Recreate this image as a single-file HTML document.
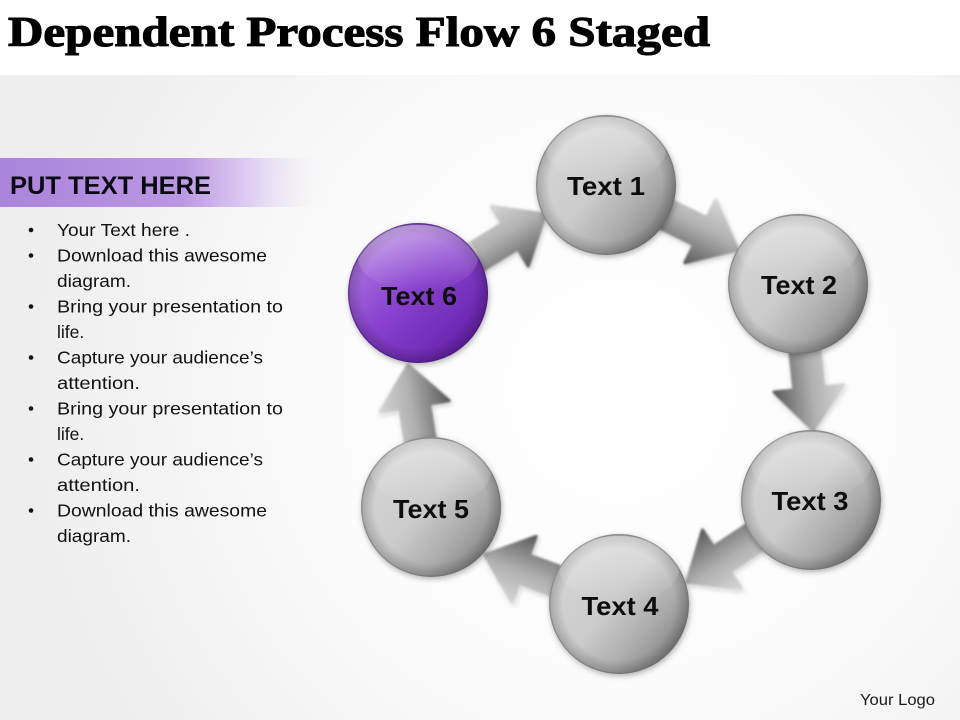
<!DOCTYPE html>
<html><head><meta charset="utf-8"><style>
html,body{margin:0;padding:0;background:#fff;}
svg{display:block;}
</style></head><body>
<svg width="960" height="720" viewBox="0 0 960 720" xmlns="http://www.w3.org/2000/svg">
<defs>
  <radialGradient id="bg" cx="620" cy="390" r="600" gradientUnits="userSpaceOnUse">
    <stop offset="0" stop-color="#ffffff"/>
    <stop offset="0.5" stop-color="#fbfbfb"/>
    <stop offset="1" stop-color="#eeeeee"/>
  </radialGradient>
  <linearGradient id="band" x1="0" y1="0" x2="1" y2="0">
    <stop offset="0" stop-color="#ab83db"/>
    <stop offset="0.55" stop-color="#bb97e3"/>
    <stop offset="0.78" stop-color="#e3d4f4"/>
    <stop offset="1" stop-color="#f7f6f8" stop-opacity="0"/>
  </linearGradient>
  <linearGradient id="sph" x1="0.1" y1="0.15" x2="0.95" y2="0.85">
    <stop offset="0" stop-color="#d6d6d6"/>
    <stop offset="0.45" stop-color="#cbcbcb"/>
    <stop offset="0.72" stop-color="#adadad"/>
    <stop offset="1" stop-color="#7f7f7f"/>
  </linearGradient>
  <linearGradient id="psph" x1="0.1" y1="0.1" x2="0.9" y2="0.9">
    <stop offset="0" stop-color="#b07de2"/>
    <stop offset="0.45" stop-color="#8a42d0"/>
    <stop offset="1" stop-color="#621fa6"/>
  </linearGradient>
  <radialGradient id="rim" cx="0.5" cy="0.5" r="0.5">
    <stop offset="0.8" stop-color="#000" stop-opacity="0"/>
    <stop offset="1" stop-color="#000" stop-opacity="0.22"/>
  </radialGradient>
  <linearGradient id="gloss" x1="0" y1="0" x2="0" y2="1">
    <stop offset="0" stop-color="#fff" stop-opacity="0.38"/>
    <stop offset="1" stop-color="#fff" stop-opacity="0"/>
  </linearGradient>
  <linearGradient id="arrY" x1="0" y1="-34" x2="0" y2="34" gradientUnits="userSpaceOnUse">
    <stop offset="0" stop-color="#d4d4d4"/>
    <stop offset="0.45" stop-color="#b0b0b0"/>
    <stop offset="1" stop-color="#5e5e5e"/>
  </linearGradient>
  <filter id="sh" x="-30%" y="-30%" width="160%" height="160%">
    <feDropShadow dx="1" dy="2" stdDeviation="3" flood-color="#000" flood-opacity="0.3"/>
  </filter>
  <filter id="ash" x="-30%" y="-60%" width="160%" height="220%">
    <feGaussianBlur in="SourceGraphic" stdDeviation="1" result="b"/>
    <feDropShadow in="b" dx="1" dy="2" stdDeviation="2.5" flood-color="#000" flood-opacity="0.22"/>
  </filter>
</defs>

<!-- background -->
<rect x="0" y="0" width="960" height="720" fill="#ffffff"/>
<rect x="0" y="75" width="960" height="645" fill="url(#bg)"/>

<!-- title -->
<text x="8" y="46" font-family="Liberation Serif, serif" font-weight="bold" font-size="42" fill="#000" stroke="#000" stroke-width="1.1" textLength="702" lengthAdjust="spacingAndGlyphs">Dependent Process Flow 6 Staged</text>

<!-- purple band -->
<rect x="0" y="158" width="330" height="49" fill="url(#band)"/>
<text x="10" y="194" font-family="Liberation Sans, sans-serif" font-weight="bold" font-size="25" fill="#0a0a14" textLength="201" lengthAdjust="spacingAndGlyphs">PUT TEXT HERE</text>

<!-- bullets -->
<g font-family="Liberation Sans, sans-serif" font-size="17.5" fill="#111">
  <circle cx="31" cy="230" r="2.3" fill="#111"/>
  <text x="57" y="236" textLength="133" lengthAdjust="spacingAndGlyphs">Your Text here .</text>
  <circle cx="31" cy="255.5" r="2.3" fill="#111"/>
  <text x="57" y="261.5" textLength="210" lengthAdjust="spacingAndGlyphs">Download this awesome</text>
  <text x="57" y="287" textLength="74" lengthAdjust="spacingAndGlyphs">diagram.</text>
  <circle cx="31" cy="306.5" r="2.3" fill="#111"/>
  <text x="57" y="312.5" textLength="226" lengthAdjust="spacingAndGlyphs">Bring your presentation to</text>
  <text x="57" y="338">life.</text>
  <circle cx="31" cy="357.5" r="2.3" fill="#111"/>
  <text x="57" y="363.5" textLength="206" lengthAdjust="spacingAndGlyphs">Capture your audience’s</text>
  <text x="57" y="389" textLength="83" lengthAdjust="spacingAndGlyphs">attention.</text>
  <circle cx="31" cy="408.5" r="2.3" fill="#111"/>
  <text x="57" y="414.5" textLength="226" lengthAdjust="spacingAndGlyphs">Bring your presentation to</text>
  <text x="57" y="440">life.</text>
  <circle cx="31" cy="459.5" r="2.3" fill="#111"/>
  <text x="57" y="465.5" textLength="206" lengthAdjust="spacingAndGlyphs">Capture your audience’s</text>
  <text x="57" y="491" textLength="83" lengthAdjust="spacingAndGlyphs">attention.</text>
  <circle cx="31" cy="510.5" r="2.3" fill="#111"/>
  <text x="57" y="516.5" textLength="210" lengthAdjust="spacingAndGlyphs">Download this awesome</text>
  <text x="57" y="542" textLength="74" lengthAdjust="spacingAndGlyphs">diagram.</text>
</g>

<!-- arrows -->
<g filter="url(#ash)">
  <!-- 6 -> 1 -->
  <g transform="translate(418,293) rotate(-31.7)">
    <polygon points="0,-15 108,-15 108,-35 150,0 108,35 108,15 0,15" fill="url(#arrY)" stroke="url(#arrY)" stroke-width="3" stroke-linejoin="round"/>
  </g>
  <!-- 1 -> 2 -->
  <g transform="translate(606,185) rotate(26.2)">
    <polygon points="0,-15 105,-15 105,-35 147,0 105,35 105,15 0,15" fill="url(#arrY)" stroke="url(#arrY)" stroke-width="3" stroke-linejoin="round"/>
  </g>
  <!-- 2 -> 3 -->
  <g transform="translate(798,284) rotate(84.1)">
    <polygon points="0,-15 105,-15 105,-35 147,0 105,35 105,15 0,15" fill="url(#arrY)" stroke="url(#arrY)" stroke-width="3" stroke-linejoin="round"/>
  </g>
  <!-- 3 -> 4 -->
  <g transform="translate(811,500) rotate(146.5)">
    <polygon points="0,-15 107,-15 107,-35 149,0 107,35 107,15 0,15" fill="url(#arrY)" stroke="url(#arrY)" stroke-width="3" stroke-linejoin="round"/>
  </g>
  <!-- 4 -> 5 -->
  <g transform="translate(619,604) rotate(200.1)">
    <polygon points="0,-15 101,-15 101,-35 143,0 101,35 101,15 0,15" fill="url(#arrY)" stroke="url(#arrY)" stroke-width="3" stroke-linejoin="round"/>
  </g>
  <!-- 5 -> 6 -->
  <g transform="translate(431,507) rotate(-99.2)">
    <polygon points="0,-15 102,-15 102,-35 144,0 102,35 102,15 0,15" fill="url(#arrY)" stroke="url(#arrY)" stroke-width="3" stroke-linejoin="round"/>
  </g>
</g>

<!-- spheres -->
<g>
  <circle cx="606" cy="185" r="70" fill="url(#sph)" filter="url(#sh)"/>
  <circle cx="606" cy="185" r="70" fill="url(#rim)"/>
  <ellipse cx="606" cy="150" rx="60" ry="33" fill="url(#gloss)"/>
  <circle cx="606" cy="185" r="69.3" fill="none" stroke="#6a6a6a" stroke-opacity="0.45" stroke-width="1.3"/>
</g>
<g>
  <circle cx="798" cy="284" r="70" fill="url(#sph)" filter="url(#sh)"/>
  <circle cx="798" cy="284" r="70" fill="url(#rim)"/>
  <ellipse cx="798" cy="249" rx="60" ry="33" fill="url(#gloss)"/>
  <circle cx="798" cy="284" r="69.3" fill="none" stroke="#6a6a6a" stroke-opacity="0.45" stroke-width="1.3"/>
</g>
<g>
  <circle cx="811" cy="500" r="70" fill="url(#sph)" filter="url(#sh)"/>
  <circle cx="811" cy="500" r="70" fill="url(#rim)"/>
  <ellipse cx="811" cy="465" rx="60" ry="33" fill="url(#gloss)"/>
  <circle cx="811" cy="500" r="69.3" fill="none" stroke="#6a6a6a" stroke-opacity="0.45" stroke-width="1.3"/>
</g>
<g>
  <circle cx="619" cy="604" r="70" fill="url(#sph)" filter="url(#sh)"/>
  <circle cx="619" cy="604" r="70" fill="url(#rim)"/>
  <ellipse cx="619" cy="569" rx="60" ry="33" fill="url(#gloss)"/>
  <circle cx="619" cy="604" r="69.3" fill="none" stroke="#6a6a6a" stroke-opacity="0.45" stroke-width="1.3"/>
</g>
<g>
  <circle cx="431" cy="507" r="70" fill="url(#sph)" filter="url(#sh)"/>
  <circle cx="431" cy="507" r="70" fill="url(#rim)"/>
  <ellipse cx="431" cy="472" rx="60" ry="33" fill="url(#gloss)"/>
  <circle cx="431" cy="507" r="69.3" fill="none" stroke="#6a6a6a" stroke-opacity="0.45" stroke-width="1.3"/>
</g>
<g>
  <circle cx="418" cy="293" r="70" fill="url(#psph)" filter="url(#sh)"/>
  <circle cx="418" cy="293" r="70" fill="url(#rim)"/>
  <ellipse cx="418" cy="258" rx="60" ry="33" fill="url(#gloss)"/>
  <circle cx="418" cy="293" r="69.3" fill="none" stroke="#4a1680" stroke-opacity="0.5" stroke-width="1.3"/>
</g>

<!-- labels -->
<g font-family="Liberation Sans, sans-serif" font-weight="bold" font-size="26" fill="#0d0d0d" text-anchor="middle">
  <text x="606" y="195" textLength="78" lengthAdjust="spacingAndGlyphs">Text 1</text>
  <text x="799" y="294" textLength="76" lengthAdjust="spacingAndGlyphs">Text 2</text>
  <text x="810" y="510" textLength="77" lengthAdjust="spacingAndGlyphs">Text 3</text>
  <text x="620" y="615" textLength="77" lengthAdjust="spacingAndGlyphs">Text 4</text>
  <text x="431" y="518" textLength="76" lengthAdjust="spacingAndGlyphs">Text 5</text>
  <text x="419" y="305" textLength="76" lengthAdjust="spacingAndGlyphs">Text 6</text>
</g>

<!-- logo -->
<text x="860" y="705" font-family="Liberation Sans, sans-serif" font-size="15.5" fill="#1a1a1a" textLength="75" lengthAdjust="spacingAndGlyphs">Your Logo</text>
</svg>
</body></html>
